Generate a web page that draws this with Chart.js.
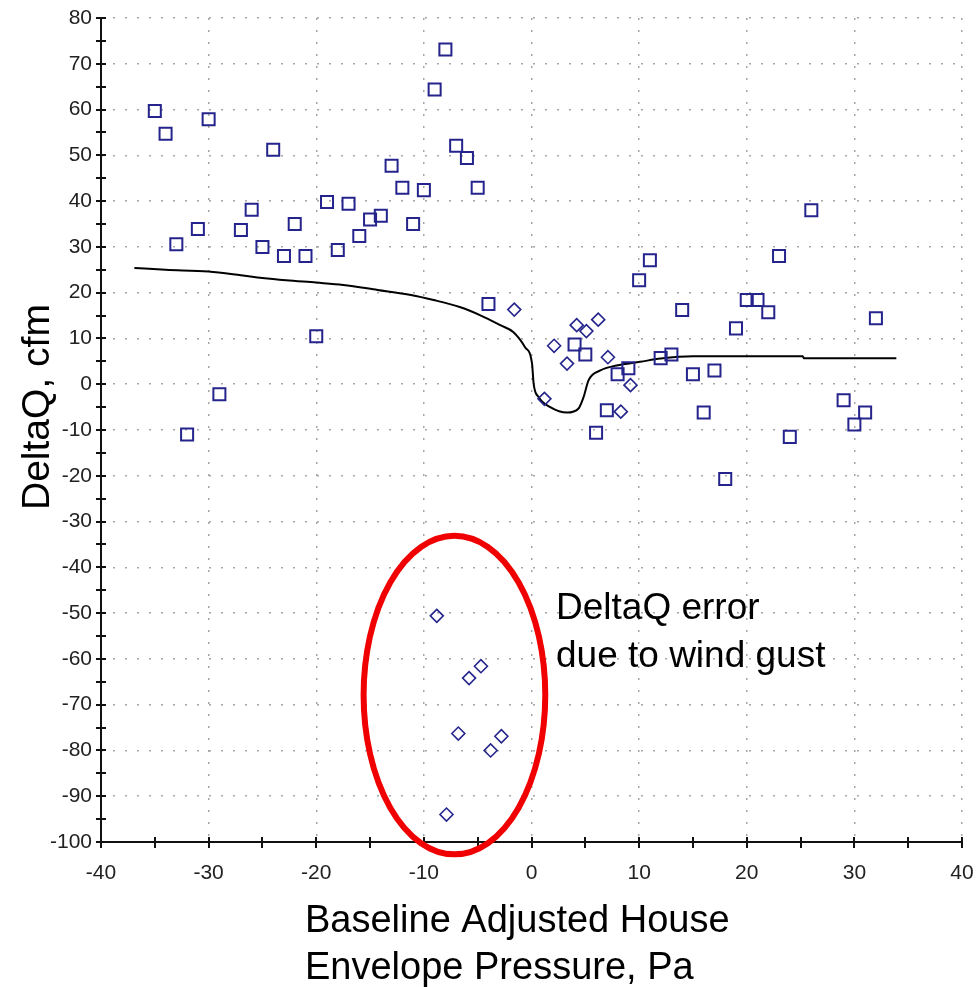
<!DOCTYPE html>
<html>
<head>
<meta charset="utf-8">
<script src="https://cdn.jsdelivr.net/npm/chart.js@4/dist/chart.umd.min.js"></script>
<style>
  html, body { margin: 0; padding: 0; background: #fff; }
  #wrap { position: relative; width: 980px; height: 987px; }
</style>
</head>
<body>
<div id="wrap"><canvas id="c" width="980" height="987"></canvas></div>
<script>
// ---- Data ----
const squareX = [-35,-34,-33,-32,-31,-30,-29,-27,-26,-25,-24,-23,-22,-21,-20,-19,-18,-17,-16,-15,-14,-13,-12,-11,-10,-9,-8,-7,-6,-5,-4,
                 4,5,6,7,8,9,10,11,12,13,14,15,16,17,18,19,20,21,22,23,24,26,29,30,31,32];
const squareY = [59.7,54.7,30.6,-11.0,33.9,57.9,-2.2,33.7,38.1,30.0,51.2,28.0,35.0,28.0,10.5,39.8,29.3,39.4,32.4,36.0,36.8,47.7,42.9,35.0,42.4,64.4,73.1,52.1,49.4,42.9,17.5,
                 8.7,6.5,-10.6,-5.7,2.2,3.5,22.7,27.1,5.7,6.5,16.2,2.2,-6.2,3.0,-20.7,12.2,18.4,18.4,15.7,28.0,-11.5,38.0,-3.5,-8.8,-6.2,14.4];

const diamondX = [-1.6, 1.2, 2.1, 3.3, 4.2, 5.1, 6.2, 7.1, 8.3, 9.2, -8.8, -4.7, -5.8, -6.8, -2.8, -3.8, -7.9];
const diamondY = [16.3, -3.2, 8.4, 4.5, 12.9, 11.6, 14.1, 5.9, -6.0, -0.2, -50.6, -61.6, -64.2, -76.3, -76.9, -80.0, -94.0];

const curveX = [-36.9, -34, -30, -27, -25, -22.8, -20, -17.5, -14.3, -11.2, -9.1, -6.6, -4.7, -2.9, -1.7, -0.6, 0.05, 0.2, 0.66, 1.74, 3.3, 4.37, 4.84, 5.3, 6.4, 7.9, 10.1, 12, 15, 25.2, 25.3, 33.9];
const curveY = [25.4, 25.0, 24.6, 23.8, 23.2, 22.7, 22.2, 21.7, 20.6, 19.5, 18.4, 16.8, 15.0, 12.9, 11.4, 8.1, 4.5, 0.1, -2.8, -5.0, -6.2, -5.3, -2.8, 0.85, 3.0, 4.1, 4.9, 5.6, 6.1, 6.1, 5.7, 5.7];

const xTicks = [-40,-30,-20,-10,0,10,20,30,40];
const yTicks = [80,70,60,50,40,30,20,10,0,-10,-20,-30,-40,-50,-60,-70,-80,-90,-100];

const yTitle = 'DeltaQ, cfm';
const xTitleLines = ['Baseline Adjusted House', 'Envelope Pressure, Pa'];
const noteLines = ['DeltaQ error', 'due to wind gust'];
// Highlight ellipse (data units): centre and half-axes
const ellipseCenter = {x: -7.16, y: -67.9};
const ellipseHalf = {x: 8.44, y: 34.8};

const toPts = (xs, ys) => xs.map((x, i) => ({x, y: ys[i]}));

const MARK = '#24248c';
const FONT = '"Liberation Sans", Arial, sans-serif';

const decorPlugin = {
  id: 'decor',
  beforeDatasetsDraw(chart) {
    const {ctx, chartArea: a, scales: {x, y}} = chart;
    ctx.save();
    ctx.strokeStyle = '#111';
    ctx.lineWidth = 2;
    ctx.beginPath();
    ctx.moveTo(a.left, a.top - 1); ctx.lineTo(a.left, a.bottom);
    ctx.lineTo(a.right + 1, a.bottom);
    ctx.stroke();
    ctx.beginPath();
    for (let v = y.min; v <= y.max + 0.001; v += 5) {
      const p = Math.round(y.getPixelForValue(v));
      ctx.moveTo(a.left - 5, p); ctx.lineTo(a.left + 5, p);
    }
    for (let v = x.min; v <= x.max + 0.001; v += 5) {
      const p = Math.round(x.getPixelForValue(v));
      ctx.moveTo(p, a.bottom - 5); ctx.lineTo(p, a.bottom + 6);
    }
    ctx.stroke();
    ctx.restore();
  },
  afterDraw(chart) {
    const {ctx, scales: {x, y}} = chart;
    ctx.save();
    const cx = x.getPixelForValue(ellipseCenter.x);
    const cy = y.getPixelForValue(ellipseCenter.y);
    const rx = Math.abs(x.getPixelForValue(ellipseCenter.x + ellipseHalf.x) - cx);
    const ry = Math.abs(y.getPixelForValue(ellipseCenter.y + ellipseHalf.y) - cy);
    ctx.strokeStyle = '#f00000';
    ctx.lineWidth = 6;
    ctx.beginPath();
    ctx.ellipse(cx, cy, rx, ry, 0, 0, Math.PI * 2);
    ctx.stroke();

    ctx.fillStyle = '#000';
    ctx.textAlign = 'left';
    ctx.textBaseline = 'alphabetic';
    ctx.font = '37px ' + FONT;
    ctx.fillText(noteLines[0], 556, 619);
    ctx.fillText(noteLines[1], 556, 667);
    ctx.font = '38px ' + FONT;
    ctx.fillText(xTitleLines[0], 305, 932);
    ctx.fillText(xTitleLines[1], 305, 979);
    ctx.font = '39px ' + FONT;
    ctx.translate(49, 510);
    ctx.rotate(-Math.PI / 2);
    ctx.fillText(yTitle, 0, 0);
    ctx.restore();
  }
};

const gridCommon = {
  color: '#a6a6a6',
  lineWidth: 1.5,
  drawTicks: false
};

new Chart(document.getElementById('c'), {
  type: 'scatter',
  data: {
    datasets: [
      {
        label: 'fit',
        type: 'line',
        data: toPts(curveX, curveY),
        borderColor: '#000',
        borderWidth: 2,
        pointRadius: 0,
        fill: false,
        cubicInterpolationMode: 'monotone',
        order: 3
      },
      {
        label: 'measured',
        data: toPts(squareX, squareY),
        pointStyle: 'rect',
        pointRadius: 8.5,
        pointBorderWidth: 2,
        pointBackgroundColor: 'rgba(0,0,0,0)',
        pointBorderColor: MARK,
        order: 1
      },
      {
        label: 'low',
        data: toPts(diamondX, diamondY),
        pointStyle: 'rectRot',
        pointRadius: 6.5,
        pointBorderWidth: 1.6,
        pointBackgroundColor: 'rgba(0,0,0,0)',
        pointBorderColor: MARK,
        order: 2
      }
    ]
  },
  options: {
    responsive: false,
    animation: false,
    events: [],
    layout: { padding: { top: 18, right: 18, left: 0, bottom: 0 } },
    plugins: { legend: { display: false }, tooltip: { enabled: false } },
    scales: {
      x: {
        type: 'linear',
        min: -40, max: 40,
        afterBuildTicks: s => { s.ticks = xTicks.map(v => ({value: v})); },
        afterFit: s => { s.height = 145; s.paddingLeft = 0; s.paddingRight = 0; },
        grid: gridCommon,
        border: { display: false, dash: [2, 10] },
        ticks: { padding: 19, color: '#222', font: { family: FONT, size: 21 }, maxRotation: 0, autoSkip: false }
      },
      y: {
        type: 'linear',
        min: -100, max: 80,
        afterBuildTicks: s => { s.ticks = yTicks.slice().reverse().map(v => ({value: v})); },
        afterFit: s => { s.width = 101; s.paddingTop = 0; s.paddingBottom = 0; },
        grid: gridCommon,
        border: { display: false, dash: [2, 10] },
        ticks: { padding: 9, color: '#222', font: { family: FONT, size: 21 }, autoSkip: false }
      }
    }
  },
  plugins: [decorPlugin]
});
</script>
</body>
</html>
